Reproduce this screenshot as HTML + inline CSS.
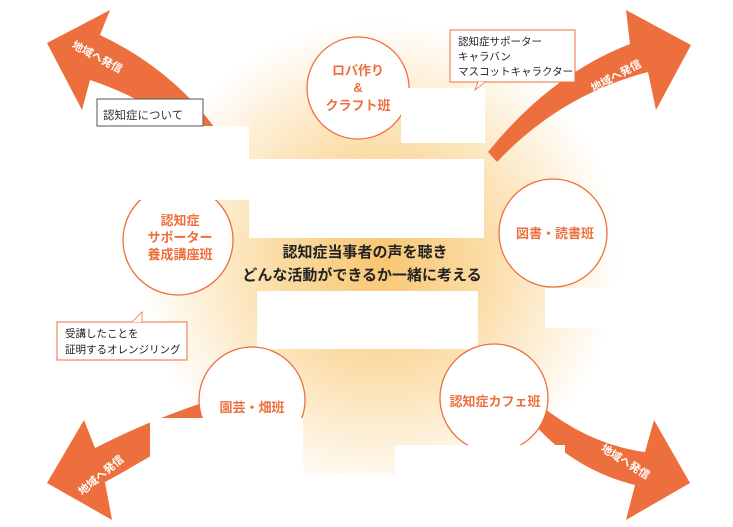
<!DOCTYPE html>
<html><head><meta charset="utf-8"><style>
html,body{margin:0;padding:0;background:#fff;width:733px;height:527px;overflow:hidden}
svg{display:block;font-family:"Liberation Sans","Noto Sans CJK JP",sans-serif}
</style></head><body>
<svg width="733" height="527" viewBox="0 0 733 527" xmlns="http://www.w3.org/2000/svg">
<defs>
<radialGradient id="g" cx="380" cy="260" r="240" gradientUnits="userSpaceOnUse">
<stop offset="0" stop-color="#F8C670"/>
<stop offset="0.45" stop-color="#FBDDA8"/>
<stop offset="1" stop-color="#FFFFFF"/>
</radialGradient>
</defs>
<rect width="733" height="527" fill="#fff"/>
<ellipse cx="380" cy="255" rx="250" ry="240" fill="url(#g)"/>
<g fill="#ED6F3D">
<path d="M215,128 Q170,68 100,35 L110,10 L47,43 L82,110 L90,80 Q150,100 198,140 Z"/>
<path d="M488,152 Q550,75 630,44 L626,10 L691,45 L656,110 L648,72 Q560,95 497,162 Z"/>
<path d="M205,402 Q150,420 95,448 L84,420 L47,483 L112,520 L105,482 Q160,452 212,418 Z"/>
<path d="M540,405 Q590,445 645,452 L654,420 L690,483 L626,520 L635,485 Q575,470 535,425 Z"/>
</g>
<g fill="#fff">
<rect x="97" y="126" width="152" height="74"/>
<rect x="249" y="159" width="235" height="79"/>
<rect x="257" y="291" width="221" height="58"/>
</g>
<g fill="#fff" stroke="#ED6F3D" stroke-width="1.3">
<circle cx="358" cy="88" r="51"/>
<circle cx="178" cy="240" r="55"/>
<circle cx="553" cy="233" r="54"/>
<circle cx="252" cy="400" r="53"/>
<circle cx="494" cy="398" r="54"/>
</g>
<g fill="#fff">
<rect x="401" y="88" width="84" height="55"/>
<rect x="97" y="126" width="152" height="74"/>
<rect x="150" y="418" width="153" height="109"/>
<rect x="395" y="445" width="170" height="82"/>
<rect x="303" y="475" width="92" height="52"/>
<rect x="545" y="288" width="70" height="40"/>
</g>
<g fill="#fff" font-size="11" font-weight="bold">
<text x="70" y="58" transform="rotate(28 92 55)">地域へ発信</text>
<text x="588" y="80" transform="rotate(-28 615 75)">地域へ発信</text>
<text x="70" y="482" transform="rotate(-40 95 472)">地域へ発信</text>
<text x="595" y="462" transform="rotate(32 618 465)">地域へ発信</text>
</g>
<g fill="#ED6F3D" font-weight="bold" font-size="13" text-anchor="middle">
<text x="358" y="75">ロバ作り</text><text x="358" y="92">&amp;</text><text x="358" y="110">クラフト班</text>
<text x="180" y="225">認知症</text><text x="180" y="242">サポーター</text><text x="180" y="259">養成講座班</text>
<text x="555" y="238">図書・読書班</text>
<text x="252" y="412">園芸・畑班</text>
<text x="495" y="406">認知症カフェ班</text>
</g>
<g fill="#222" font-weight="bold" font-size="15" text-anchor="middle">
<text x="365" y="257">認知症当事者の声を聴き</text>
<text x="362" y="280">どんな活動ができるか一緒に考える</text>
</g>
<rect x="97" y="99" width="106" height="27" fill="#fff" stroke="#555" stroke-width="1"/>
<text x="103" y="119" font-size="11.5" fill="#333">認知症について</text>
<rect x="450" y="30" width="125" height="52" fill="#fff" stroke="#ED6F3D" stroke-width="1"/>
<path d="M478,82 l-3,8 l10,-8" fill="#fff" stroke="#ED6F3D" stroke-width="0.8"/>
<g font-size="10.5" fill="#222"><text x="458" y="45">認知症サポーター</text><text x="458" y="60">キャラバン</text><text x="458" y="75">マスコットキャラクター</text></g>
<rect x="57" y="322" width="130" height="38" fill="#fff" stroke="#ED6F3D" stroke-width="1"/>
<path d="M132,322 l10,-10 l0,10" fill="#fff" stroke="#ED6F3D" stroke-width="0.8"/>
<g font-size="10.5" fill="#222"><text x="65" y="337">受講したことを</text><text x="65" y="353">証明するオレンジリング</text></g>
</svg>
</body></html>
